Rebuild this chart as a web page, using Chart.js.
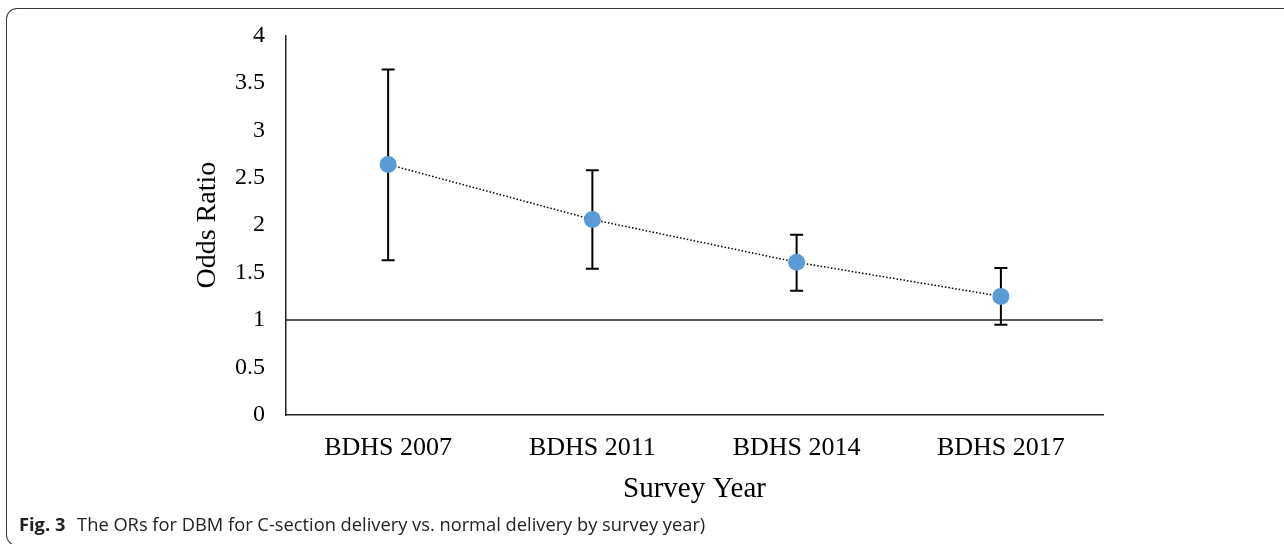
<!DOCTYPE html>
<html>
<head>
<meta charset="utf-8">
<script src="https://cdn.jsdelivr.net/npm/chart.js@4/dist/chart.umd.min.js"></script>
<style>
    html, body { margin: 0; padding: 0; background: #fff; overflow: hidden; }
    #wrap { position: relative; width: 1284px; height: 544px; overflow: hidden; }
    #frame {
        position: absolute; left: 6px; top: 8px; width: 1290px; height: 538px;
        box-sizing: border-box; border: 1.5px solid #3a3a3a; border-right: none;
        border-top-left-radius: 11px; border-bottom-left-radius: 11px;
    }
    canvas { position: absolute; left: 0; top: 0; }
    #caption {
        position: absolute; left: 19px; top: 511px; white-space: nowrap;
        font-family: "Open Sans", "Noto Sans", sans-serif; font-size: 18.3px; color: #222;
    }
    #caption b { font-weight: 700; margin-right: 7px; }
</style>
</head>
<body>
<div id="wrap">
    <div id="frame"></div>
    <canvas id="orChart" width="1284" height="544"></canvas>
    <div id="caption"><b>Fig. 3</b> The ORs for DBM for C-section delivery vs. normal delivery by survey year)</div>
</div>
<script>
const surveys = ['BDHS 2007', 'BDHS 2011', 'BDHS 2014', 'BDHS 2017'];
const oddsRatio = [2.64, 2.06, 1.61, 1.25];
const ciLower = [1.63, 1.54, 1.31, 0.95];
const ciUpper = [3.64, 2.58, 1.90, 1.55];
const refValue = 1;

const serif = '"Liberation Serif", "Times New Roman", serif';

// error bars + reference line at OR = 1
const errorBars = {
    id: 'errorBars',
    beforeDatasetsDraw(chart) {
        const {ctx, chartArea, scales: {x, y}} = chart;
        ctx.save();
        ctx.strokeStyle = '#222';
        ctx.lineWidth = 1.5;
        const ry = y.getPixelForValue(refValue);
        ctx.beginPath();
        ctx.moveTo(chartArea.left, ry);
        ctx.lineTo(chartArea.right, ry);
        ctx.stroke();

        ctx.strokeStyle = '#000';
        ctx.lineWidth = 2;
        surveys.forEach((s, i) => {
            const px = x.getPixelForValue(i);
            const lo = y.getPixelForValue(ciLower[i]);
            const hi = y.getPixelForValue(ciUpper[i]);
            ctx.beginPath();
            ctx.moveTo(px, lo); ctx.lineTo(px, hi);
            ctx.moveTo(px - 6.5, lo); ctx.lineTo(px + 6.5, lo);
            ctx.moveTo(px - 6.5, hi); ctx.lineTo(px + 6.5, hi);
            ctx.stroke();
        });
        ctx.restore();
    }
};

const orCanvas = document.getElementById('orChart');
const orChart = new Chart(orCanvas, {
    type: 'line',
    data: {
        labels: surveys,
        datasets: [{
            label: 'Odds Ratio',
            data: oddsRatio,
            borderColor: '#000',
            borderWidth: 1.5,
            borderDash: [1.5, 2],
            pointRadius: 8.5,
            pointBackgroundColor: '#5B9BD5',
            pointBorderColor: '#5B9BD5',
            pointBorderWidth: 0,
            tension: 0
        }]
    },
    options: {
        responsive: false,
        animation: false,
        devicePixelRatio: 1,
        layout: { padding: { left: 0, right: 181, top: 35, bottom: 0 } },
        plugins: { legend: { display: false }, tooltip: { enabled: false } },
        scales: {
            x: {
                offset: true,
                grid: { display: false, drawTicks: false },
                border: { display: true, color: '#222', width: 1.5 },
                ticks: { color: '#000', padding: 18, font: { family: serif, size: 26 } },
                title: { display: true, text: 'Survey Year', color: '#000', padding: { top: 0, bottom: 37 }, font: { family: serif, size: 29 } },
                afterFit: scale => { scale.height = 129; }
            },
            y: {
                min: 0,
                max: 4,
                ticks: { stepSize: 0.5, color: '#000', padding: 21, font: { family: serif, size: 24 }, callback: v => String(v) },
                grid: { display: false, drawTicks: false },
                border: { display: true, color: '#222', width: 1.5 },
                title: { display: true, text: 'Odds Ratio', color: '#000', padding: { top: 191, bottom: 0 }, font: { family: serif, size: 28 } },
                afterFit: scale => { scale.width = 286; }
            }
        }
    },
    plugins: [errorBars]
});
</script>
</body>
</html>
